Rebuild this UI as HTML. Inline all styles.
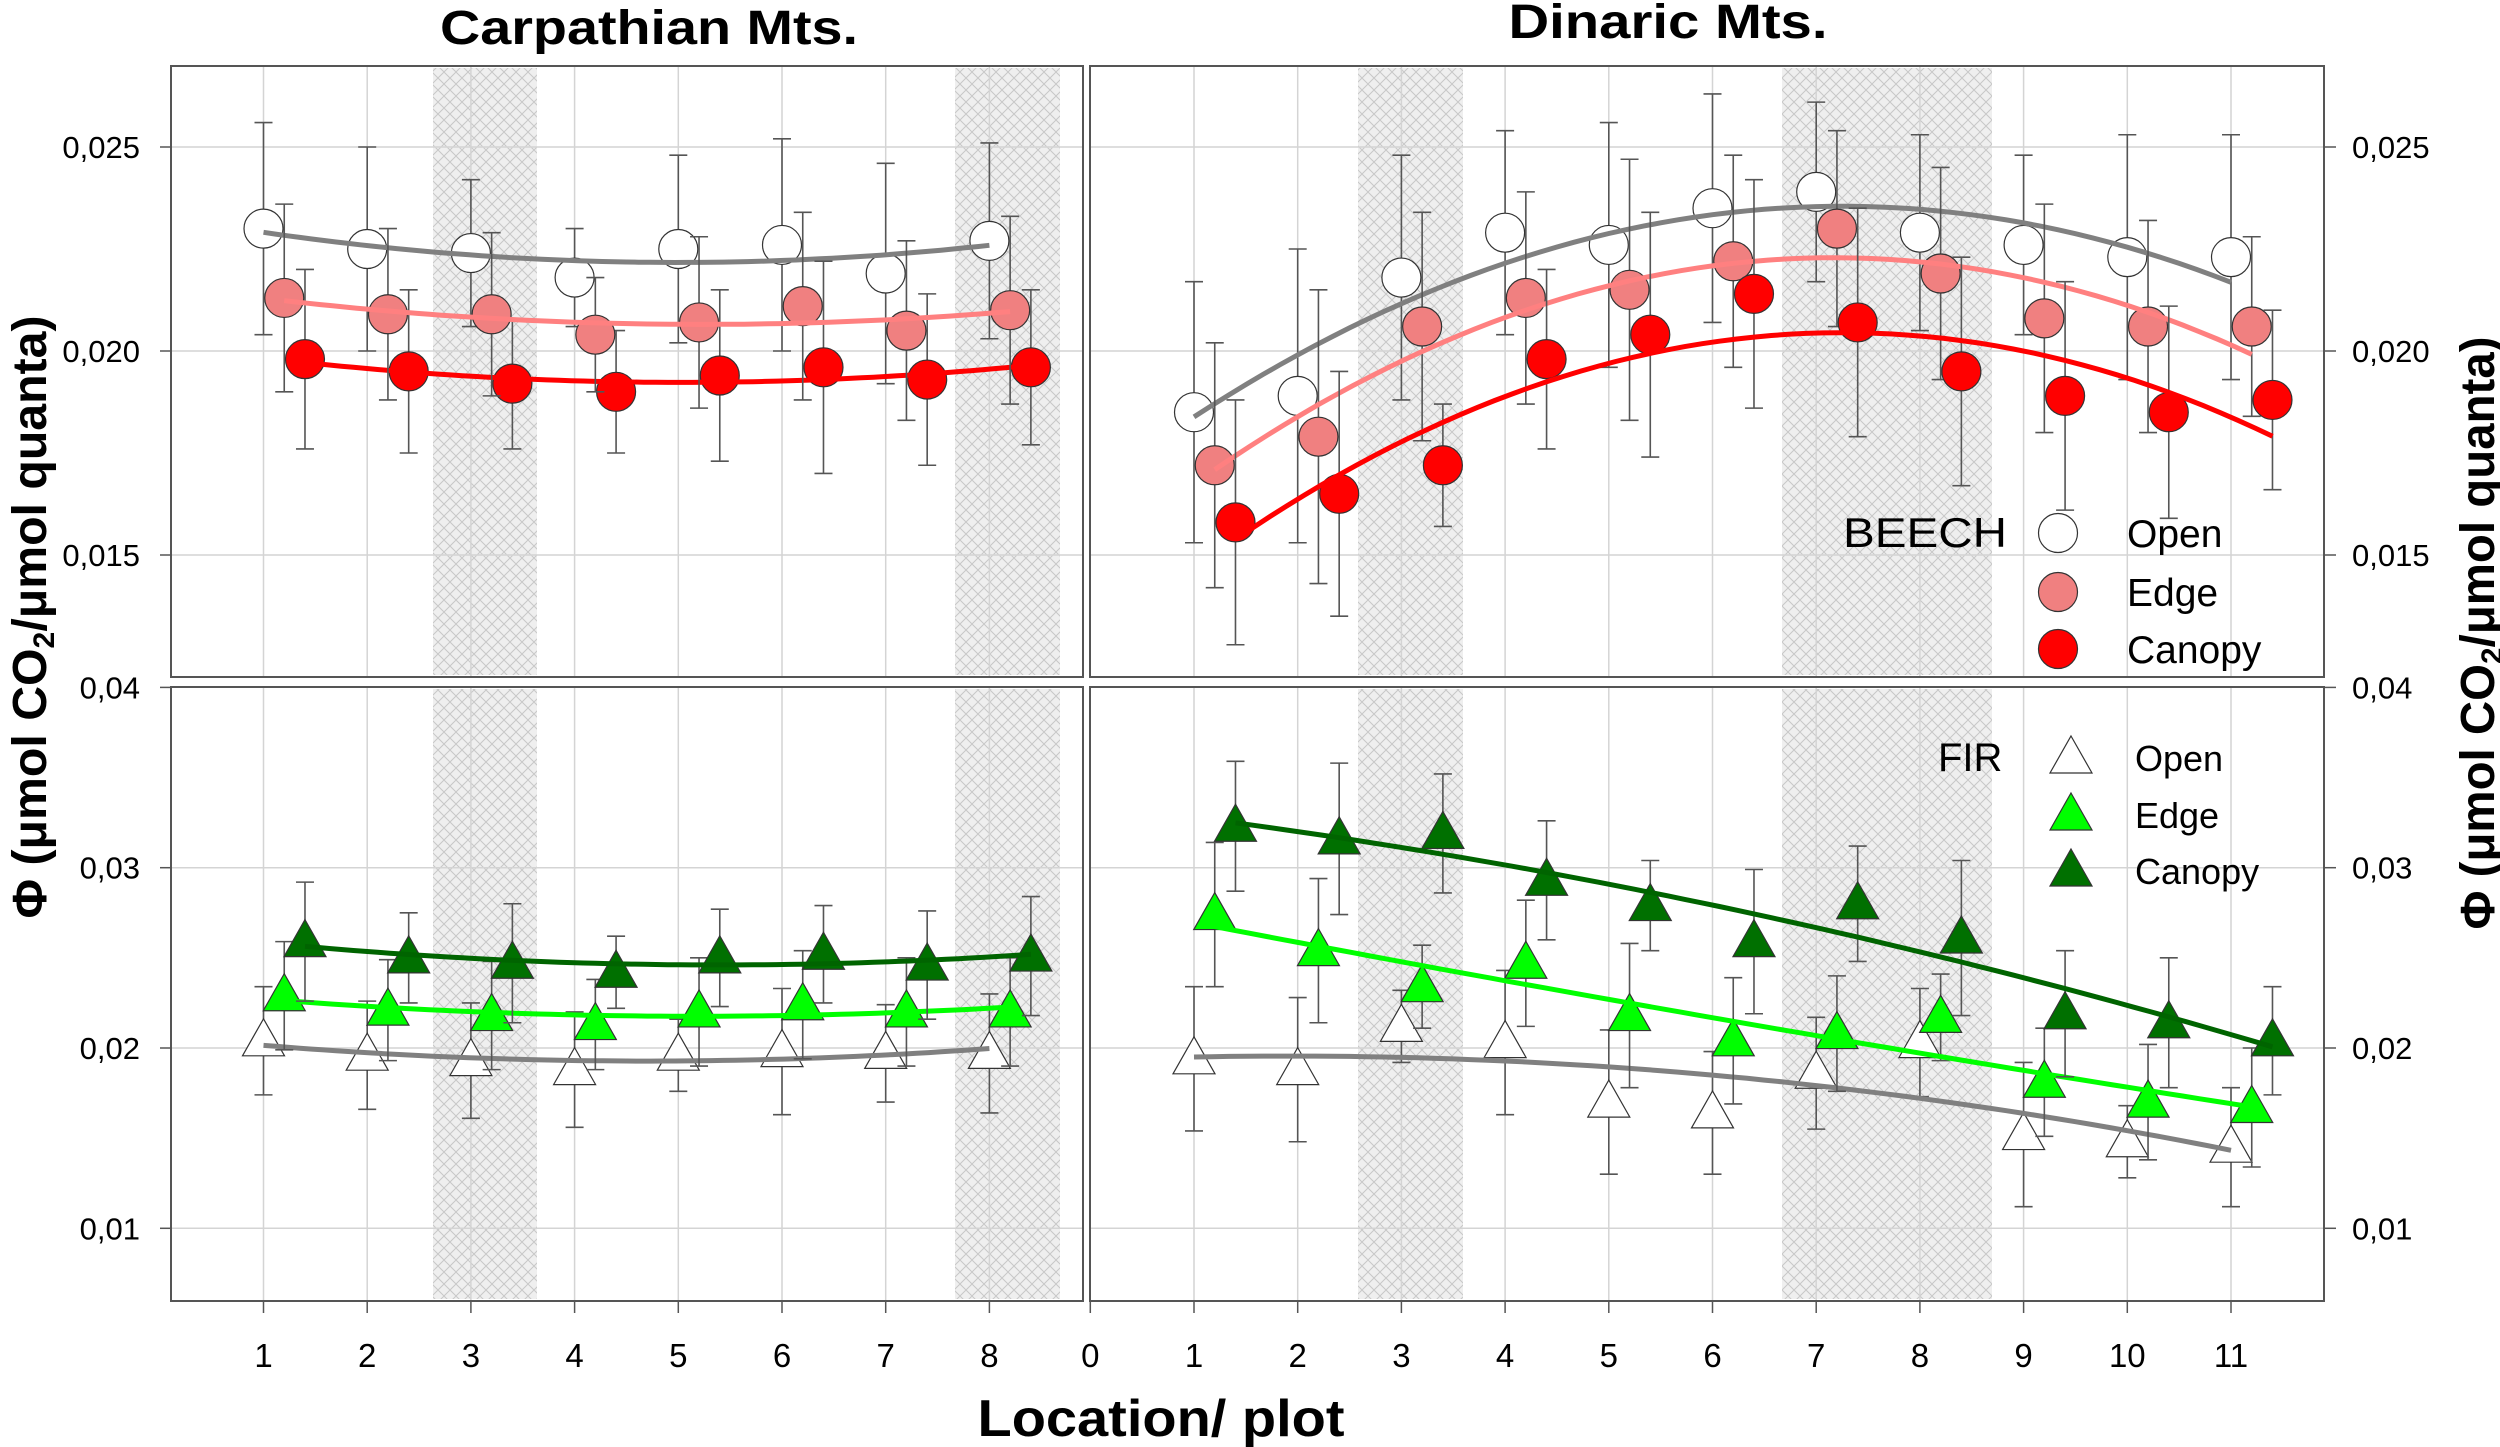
<!DOCTYPE html>
<html><head><meta charset="utf-8"><style>
html,body{margin:0;padding:0;background:#fff;}
svg{display:block;}
</style></head><body>
<svg id="chart" width="2500" height="1447" viewBox="0 0 2500 1447" xmlns="http://www.w3.org/2000/svg" font-family="'Liberation Sans', Arial, sans-serif">
<defs>
<pattern id="hatch" width="12" height="12" patternUnits="userSpaceOnUse">
<rect width="12" height="12" fill="#efefef"/>
<path d="M0,0 L12,12 M12,0 L0,12" stroke="#c8c8c8" stroke-width="1"/>
</pattern>
</defs>
<g id="layer"></g>
</svg>
<script>
// ---------- DATA ----------
const carpX = [1,2,3,4,5,6,7,8];
const dinX = [1,2,3,4,5,6,7,8,9,10,11];
const carpBeechOpen = [0.0230,0.0225,0.0224,0.0218,0.0225,0.0226,0.0219,0.0227];
const carpBeechOpenErr = [0.0026,0.0025,0.0018,0.0012,0.0023,0.0026,0.0027,0.0024];
const carpBeechEdge = [0.0213,0.0209,0.0209,0.0204,0.0207,0.0211,0.0205,0.0210];
const carpBeechEdgeErr = [0.0023,0.0021,0.0020,0.0014,0.0021,0.0023,0.0022,0.0023];
const carpBeechCanopy = [0.0198,0.0195,0.0192,0.0190,0.0194,0.0196,0.0193,0.0196];
const carpBeechCanopyErr = [0.0022,0.0020,0.0016,0.0015,0.0021,0.0026,0.0021,0.0019];
const dinBeechOpen = [0.0185,0.0189,0.0218,0.0229,0.0226,0.0235,0.0239,0.0229,0.0226,0.0223,0.0223];
const dinBeechOpenErr = [0.0032,0.0036,0.0030,0.0025,0.0030,0.0028,0.0022,0.0024,0.0022,0.0030,0.0030];
const dinBeechEdge = [0.0172,0.0179,0.0206,0.0213,0.0215,0.0222,0.0230,0.0219,0.0208,0.0206,0.0206];
const dinBeechEdgeErr = [0.0030,0.0036,0.0028,0.0026,0.0032,0.0026,0.0024,0.0026,0.0028,0.0026,0.0022];
const dinBeechCanopy = [0.0158,0.0165,0.0172,0.0198,0.0204,0.0214,0.0207,0.0195,0.0189,0.0185,0.0188];
const dinBeechCanopyErr = [0.0030,0.0030,0.0015,0.0022,0.0030,0.0028,0.0028,0.0028,0.0028,0.0026,0.0022];
const carpFirOpen = [0.0204,0.0196,0.0193,0.0188,0.0196,0.0198,0.0197,0.0197];
const carpFirOpenErr = [0.0030,0.0030,0.0032,0.0032,0.0020,0.0035,0.0027,0.0033];
const carpFirEdge = [0.0229,0.0221,0.0218,0.0213,0.0220,0.0224,0.0220,0.0220];
const carpFirEdgeErr = [0.0030,0.0028,0.0030,0.0025,0.0030,0.0030,0.0030,0.0030];
const carpFirCanopy = [0.0259,0.0250,0.0247,0.0242,0.0250,0.0252,0.0246,0.0251];
const carpFirCanopyErr = [0.0033,0.0025,0.0033,0.0020,0.0027,0.0027,0.0030,0.0033];
const dinFirOpen = [0.0194,0.0188,0.0212,0.0203,0.0170,0.0164,0.0186,0.0203,0.0152,0.0148,0.0145];
const dinFirOpenErr = [0.0040,0.0040,0.0020,0.0040,0.0040,0.0034,0.0031,0.0030,0.0040,0.0020,0.0033];
const dinFirEdge = [0.0274,0.0254,0.0234,0.0247,0.0218,0.0204,0.0208,0.0217,0.0181,0.0170,0.0167];
const dinFirEdgeErr = [0.0040,0.0040,0.0023,0.0035,0.0040,0.0035,0.0032,0.0024,0.0030,0.0032,0.0033];
const dinFirCanopy = [0.0323,0.0316,0.0319,0.0293,0.0279,0.0259,0.0280,0.0261,0.0219,0.0214,0.0204];
const dinFirCanopyErr = [0.0036,0.0042,0.0033,0.0033,0.0025,0.0040,0.0032,0.0043,0.0035,0.0036,0.0030];
const topTicks = [0.015,0.020,0.025];
const topTickLabels = ["0,015","0,020","0,025"];
const botTicks = [0.01,0.02,0.03,0.04];
const botTickLabels = ["0,01","0,02","0,03","0,04"];
const carpXTicks = [1,2,3,4,5,6,7,8];
const dinXTicks = [0,1,2,3,4,5,6,7,8,9,10,11];

// ---------- SCALES ----------
const xL = v => 263.5 + (v-1)*103.7;
const xR = v => 1194 + (v-1)*103.7;
const yT = v => 351 - (v-0.02)/0.005*204;
const yB = v => 1048 - (v-0.02)/0.01*180.3;
const P = {lx0:171, lx1:1083, rx0:1090, rx1:2324, ty0:66, ty1:677, by0:687, by1:1301};

const NS = "http://www.w3.org/2000/svg";
const layer = document.getElementById('layer');
function mk(tag, attrs, parent){
  const e = document.createElementNS(NS, tag);
  for (const k in attrs) e.setAttribute(k, attrs[k]);
  (parent||layer).appendChild(e);
  return e;
}
function txt(s, attrs, parent){ const e = mk('text', attrs, parent); e.textContent = s; return e; }

// panels backgrounds + shading
function panel(x0,x1,y0,y1,name,shades,xs){
  const g = mk('g',{});
  
  
  mk('rect',{x:x0,y:y0,width:x1-x0,height:y1-y0,fill:'#fff'},g);
  shades.forEach(s=>{
    const r = mk('rect',{x:s[0],y:y0+2,width:s[1]-s[0],height:y1-y0-4,fill:'url(#hatch)'},g);
    
    
  });
  return g;
}
const shL = [[433,537],[955,1060]];
const shR = [[1358,1463],[1782,1992]];
const gTL = panel(P.lx0,P.lx1,P.ty0,P.ty1,'carpathian-beech-panel',shL);
const gTR = panel(P.rx0,P.rx1,P.ty0,P.ty1,'dinaric-beech-panel',shR);
const gBL = panel(P.lx0,P.lx1,P.by0,P.by1,'carpathian-fir-panel',shL);
const gBR = panel(P.rx0,P.rx1,P.by0,P.by1,'dinaric-fir-panel',shR);

// gridlines
function grid(g,xs,xf,x0,x1,y0,y1,ticks,yf){
  xs.forEach(v=>{ if(xf(v)>x0+2 && xf(v)<x1-2){ const l=mk('line',{x1:xf(v),x2:xf(v),y1:y0,y2:y1,stroke:'#d4d4d4','stroke-width':1.5},g);
     }});
  ticks.forEach(v=>{ const y=yf(v); if(y>y0+2 && y<y1-2){ const l=mk('line',{x1:x0,x2:x1,y1:y,y2:y,stroke:'#d4d4d4','stroke-width':1.5},g);
     }});
}
grid(gTL,carpXTicks,xL,P.lx0,P.lx1,P.ty0,P.ty1,topTicks,yT);
grid(gBL,carpXTicks,xL,P.lx0,P.lx1,P.by0,P.by1,botTicks,yB);
grid(gTR,dinXTicks,xR,P.rx0,P.rx1,P.ty0,P.ty1,topTicks,yT);
grid(gBR,dinXTicks,xR,P.rx0,P.rx1,P.by0,P.by1,botTicks,yB);

// quadratic fit
function quadFit(xs, ys){
  let n=xs.length,S=[0,0,0,0,0],T=[0,0,0];
  for(let i=0;i<n;i++){const x=xs[i],y=ys[i];let p=1;for(let k=0;k<5;k++){S[k]+=p;if(k<3)T[k]+=p*y;p*=x;}}
  const A=[[S[0],S[1],S[2],T[0]],[S[1],S[2],S[3],T[1]],[S[2],S[3],S[4],T[2]]];
  for(let i=0;i<3;i++){for(let j=i+1;j<3;j++){const f=A[j][i]/A[i][i];for(let k=i;k<4;k++)A[j][k]-=f*A[i][k];}}
  const c=[0,0,0];
  for(let i=2;i>=0;i--){let s=A[i][3];for(let k=i+1;k<3;k++)s-=A[i][k]*c[k];c[i]=s/A[i][i];}
  return x=>c[0]+c[1]*x+c[2]*x*x;
}

function series(g, xs, off, ys, errs, xf, yf, shape, fill, lineColor, name){
  const sg = mk('g',{},g);
  
  
  // error bars
  xs.forEach((x,i)=>{
    const cx = xf(x+off), yt = yf(ys[i]+errs[i]), yb = yf(ys[i]-errs[i]);
    const eb = mk('path',{d:`M${cx},${yt}V${yb}M${cx-9},${yt}H${cx+9}M${cx-9},${yb}H${cx+9}`,stroke:'#555','stroke-width':1.6,fill:'none'},sg);
    
    
  });
  // markers
  xs.forEach((x,i)=>{
    const cx = xf(x+off), cy = yf(ys[i]);
    let m;
    if(shape==='circle') m = mk('circle',{cx:cx,cy:cy,r:19.5,fill:fill,stroke:'#333','stroke-width':1.2},sg);
    else m = mk('path',{d:`M${cx},${cy-22}L${cx+21},${cy+15}L${cx-21},${cy+15}Z`,fill:fill,stroke:'#333','stroke-width':1.2},sg);
    
    
  });
  // fit line
  const f = quadFit(xs.map(x=>x+off), ys);
  let d=''; const a=xs[0]+off, b=xs[xs.length-1]+off;
  for(let k=0;k<=60;k++){const x=a+(b-a)*k/60; d+=(k?'L':'M')+xf(x).toFixed(1)+','+yf(f(x)).toFixed(1);}
  const ln = mk('path',{d:d,stroke:lineColor,'stroke-width':5,fill:'none'},g);
  
  
}
series(gTL,carpX,0,carpBeechOpen,carpBeechOpenErr,xL,yT,'circle','#fff','#808080','carpathian-beech-open');
series(gTL,carpX,0.4,carpBeechCanopy,carpBeechCanopyErr,xL,yT,'circle','#ff0000','#ff0000','carpathian-beech-canopy');
series(gTL,carpX,0.2,carpBeechEdge,carpBeechEdgeErr,xL,yT,'circle','#f08080','#ff8080','carpathian-beech-edge');
series(gTR,dinX,0,dinBeechOpen,dinBeechOpenErr,xR,yT,'circle','#fff','#808080','dinaric-beech-open');
series(gTR,dinX,0.2,dinBeechEdge,dinBeechEdgeErr,xR,yT,'circle','#f08080','#ff8080','dinaric-beech-edge');
series(gTR,dinX,0.4,dinBeechCanopy,dinBeechCanopyErr,xR,yT,'circle','#ff0000','#ff0000','dinaric-beech-canopy');
series(gBL,carpX,0,carpFirOpen,carpFirOpenErr,xL,yB,'tri','#fff','#808080','carpathian-fir-open');
series(gBL,carpX,0.2,carpFirEdge,carpFirEdgeErr,xL,yB,'tri','#00ff00','#00ff00','carpathian-fir-edge');
series(gBL,carpX,0.4,carpFirCanopy,carpFirCanopyErr,xL,yB,'tri','#007000','#006400','carpathian-fir-canopy');
series(gBR,dinX,0,dinFirOpen,dinFirOpenErr,xR,yB,'tri','#fff','#808080','dinaric-fir-open');
series(gBR,dinX,0.2,dinFirEdge,dinFirEdgeErr,xR,yB,'tri','#00ff00','#00ff00','dinaric-fir-edge');
series(gBR,dinX,0.4,dinFirCanopy,dinFirCanopyErr,xR,yB,'tri','#007000','#006400','dinaric-fir-canopy');

// frames
[[P.lx0,P.lx1,P.ty0,P.ty1],[P.rx0,P.rx1,P.ty0,P.ty1],[P.lx0,P.lx1,P.by0,P.by1],[P.rx0,P.rx1,P.by0,P.by1]].forEach(r=>{
  const f = mk('rect',{x:r[0],y:r[2],width:r[1]-r[0],height:r[3]-r[2],fill:'none',stroke:'#555','stroke-width':2});
  
  
});

// axes ticks & labels
const axg = mk('g',{});


function yTicks(ticks,labels,yf,side){
  ticks.forEach((v,i)=>{
    const y = yf(v);
    if(side==='left'){
      mk('line',{x1:160,x2:P.lx0,y1:y,y2:y,stroke:'#555','stroke-width':1.5},axg);
      const t = txt(labels[i],{x:140,y:y+11,'font-size':31,'text-anchor':'end',fill:'#000'},axg);
       
    } else {
      mk('line',{x1:P.rx1,x2:P.rx1+12,y1:y,y2:y,stroke:'#555','stroke-width':1.5},axg);
      const t = txt(labels[i],{x:2352,y:y+11,'font-size':31,'text-anchor':'start',fill:'#000'},axg);
       
    }
  });
}
yTicks(topTicks,topTickLabels,yT,'left');
yTicks(topTicks,topTickLabels,yT,'right');
yTicks(botTicks,botTickLabels,yB,'left');
yTicks(botTicks,botTickLabels,yB,'right');
function xTicks(ticks,xf){
  ticks.forEach(v=>{
    const x = xf(v);
    mk('line',{x1:x,x2:x,y1:P.by1,y2:P.by1+12,stroke:'#555','stroke-width':1.5},axg);
    const t = txt(String(v),{x:x,y:1367,'font-size':33,'text-anchor':'middle',fill:'#000'},axg);
     
  });
}
xTicks(carpXTicks,xL);
xTicks(dinXTicks,xR);

// titles
let t;
t = txt('Carpathian Mts.',{x:649,y:44,'font-size':48,'font-weight':'bold','text-anchor':'middle',textLength:418,lengthAdjust:'spacingAndGlyphs'});
 
t = txt('Dinaric Mts.',{x:1668,y:38,'font-size':48,'font-weight':'bold','text-anchor':'middle',textLength:319,lengthAdjust:'spacingAndGlyphs'});
 
t = txt('Location/ plot',{x:1161,y:1436,'font-size':52,'font-weight':'bold','text-anchor':'middle',textLength:367,lengthAdjust:'spacingAndGlyphs'});
 
function yTitle(cx,cy,len,name){
  const e = mk('text',{x:0,y:0,'font-size':48,'font-weight':'bold','text-anchor':'middle',transform:`translate(${cx},${cy}) rotate(-90)`,textLength:len,lengthAdjust:'spacingAndGlyphs'});
  
  
  e.innerHTML = 'Φ (μmol CO<tspan font-size="30" dy="8">2</tspan><tspan dy="-8">/μmol quanta)</tspan>';
}
yTitle(46,617,603,'y-axis-title-left');
yTitle(2494,633,593,'y-axis-title-right');

// legends
const lg1 = mk('g',{});


txt('BEECH',{x:1843,y:547,'font-size':42,textLength:164,lengthAdjust:'spacingAndGlyphs'},lg1);
[['Open','#fff',533],['Edge','#f08080',592],['Canopy','#ff0000',649]].forEach(r=>{
  const c = mk('circle',{cx:2058,cy:r[2],r:19.5,fill:r[1],stroke:'#333','stroke-width':1.2},lg1);
   
  const l = txt(r[0],{x:2127,y:r[2]+14,'font-size':39},lg1);
   
});
const lg2 = mk('g',{});


txt('FIR',{x:1938,y:771,'font-size':40},lg2);
[['Open','#fff',758],['Edge','#00ff00',815],['Canopy','#007000',871]].forEach(r=>{
  const cx=2071, cy=r[2];
  const m = mk('path',{d:`M${cx},${cy-22}L${cx+21},${cy+15}L${cx-21},${cy+15}Z`,fill:r[1],stroke:'#333','stroke-width':1.2},lg2);
   
  const l = txt(r[0],{x:2135,y:r[2]+13,'font-size':36},lg2);
   
});
</script>
</body></html>
